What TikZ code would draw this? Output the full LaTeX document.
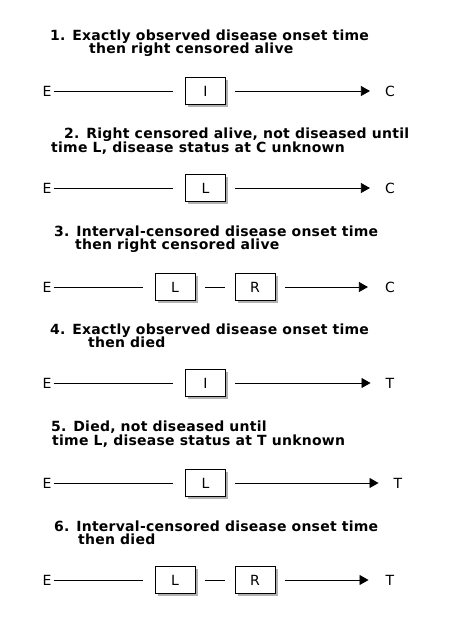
\documentclass[tikz,border=0pt]{standalone}
\usepackage{fontspec}
\setmainfont{DejaVu Sans}
\newfontfamily\ttlfont[LetterSpace=1.8]{DejaVu Sans}
\usetikzlibrary{arrows.meta,shadows}
\begin{document}
\begin{tikzpicture}[x=1pt,y=-1pt,
  every node/.style={font=\fontsize{14}{14}\selectfont},
  ttl/.style={anchor=base west,inner sep=0pt,font=\fontsize{14}{14}\ttlfont\bfseries},
  lab/.style={inner sep=2pt},
  stbox/.style={draw,line width=0.8pt,fill=white,minimum width=40pt,minimum height=27pt,inner sep=0pt,
    drop shadow={shadow xshift=2.5pt,shadow yshift=-2.5pt,opacity=0.3,fill=black}},
  ln/.style={line width=0.8pt},
  arr/.style={line width=0.8pt,-{Triangle[length=9pt,width=10pt]}}
]
\fill[white] (0,0) rectangle (470,630);
\useasboundingbox (0,0) rectangle (470,630);

% Panel 1
\node[ttl] (t1a) at (50,40) {1. Exactly observed disease onset time};
\node[ttl] (t1b) at (89,53) {then right censored alive};
\node[lab] (e1) at (47,91) {E};
\node[stbox] (i1) at (205.5,91) {I};
\node[lab] (c1) at (390,91) {C};
\draw[ln,shorten >=12.5pt] (e1) -- (i1);
\draw[arr,shorten <=9.5pt,shorten >=13pt] (i1) -- (c1);

% Panel 2
\node[ttl] (t2a) at (64,138) {2. Right censored alive, not diseased until};
\node[ttl] (t2b) at (51,152) {time L, disease status at C unknown};
\node[lab] (e2) at (47,188) {E};
\node[stbox] (l2) at (205.5,188) {L};
\node[lab] (c2) at (390,188) {C};
\draw[ln,shorten >=12.5pt] (e2) -- (l2);
\draw[arr,shorten <=9.5pt,shorten >=13pt] (l2) -- (c2);

% Panel 3
\node[ttl] (t3a) at (54,236) {3. Interval-censored disease onset time};
\node[ttl] (t3b) at (75,249) {then right censored alive};
\node[lab] (e3) at (47,287) {E};
\node[stbox] (l3) at (175,287) {L};
\node[stbox] (r3) at (255,287) {R};
\node[lab] (c3) at (390,287) {C};
\draw[ln,shorten >=12pt] (e3) -- (l3);
\draw[ln,shorten <=10pt,shorten >=10pt] (l3) -- (r3);
\draw[arr,shorten <=10pt,shorten >=15pt] (r3) -- (c3);

% Panel 4
\node[ttl] (t4a) at (50,334) {4. Exactly observed disease onset time};
\node[ttl] (t4b) at (88,347) {then died};
\node[lab] (e4) at (47,383) {E};
\node[stbox] (i4) at (205.5,383) {I};
\node[lab] (c4) at (390,383) {T};
\draw[ln,shorten >=12.5pt] (e4) -- (i4);
\draw[arr,shorten <=9.5pt,shorten >=13pt] (i4) -- (c4);

% Panel 5
\node[ttl] (t5a) at (51,431) {5. Died, not diseased until};
\node[ttl] (t5b) at (52,445) {time L, disease status at T unknown};
\node[lab] (e5) at (47,483) {E};
\node[stbox] (l5) at (205.5,483) {L};
\node[lab] (c5) at (398,483) {T};
\draw[ln,shorten >=12.5pt] (e5) -- (l5);
\draw[arr,shorten <=9.5pt,shorten >=13pt] (l5) -- (c5);

% Panel 6
\node[ttl] (t6a) at (54,531) {6. Interval-censored disease onset time};
\node[ttl] (t6b) at (78,544) {then died};
\node[lab] (e6) at (47,580) {E};
\node[stbox] (l6) at (175,580) {L};
\node[stbox] (r6) at (255,580) {R};
\node[lab] (c6) at (390,580) {T};
\draw[ln,shorten >=12pt] (e6) -- (l6);
\draw[ln,shorten <=10pt,shorten >=10pt] (l6) -- (r6);
\draw[arr,shorten <=10pt,shorten >=15pt] (r6) -- (c6);
\end{tikzpicture}
\end{document}
